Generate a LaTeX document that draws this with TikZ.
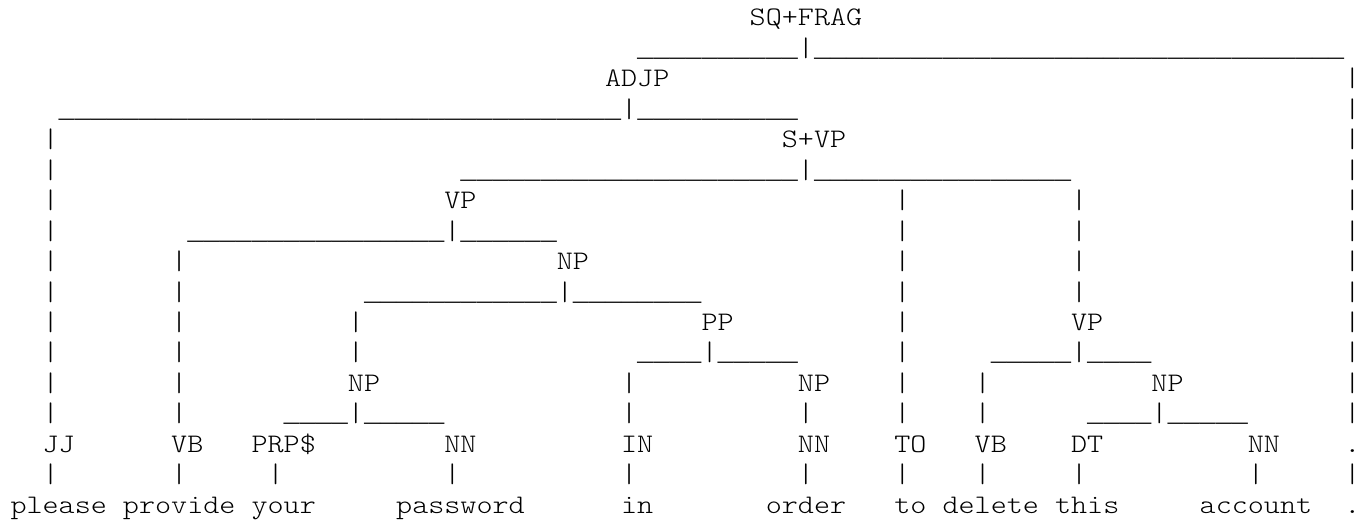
\documentclass[tikz,border=0pt]{standalone}
\usepackage{fontspec}
\newfontfamily\lmono[FakeStretch=1.1429]{lmmonolt10-regular.otf}
\newfontfamily\limono{Liberation Mono}
\ExplSyntaxOn
\cs_new:Npn \usc #1 { {\limono \prg_replicate:nn {#1} { \_ }} }
\ExplSyntaxOff
% place text on a character grid: row, column, text
\newcommand\tokat[3]{\node[txt] (r#1c#2) at ({10.5+16.07*#2},{26+30.45*#1}) {#3};}
\begin{document}
\begin{tikzpicture}[x=1pt,y=-1pt,
  txt/.style={anchor=base west,inner sep=0pt,outer sep=0pt,
    font=\fontsize{26.78}{30}\selectfont\lmono,text=black}]
\useasboundingbox (0,0) rectangle (1368,521);
% row 0
\tokat{0}{46}{SQ+FRAG}
% row 1
\tokat{1}{39}{\usc{10}|\usc{33}}
% row 2
\tokat{2}{37}{ADJP}
\tokat{2}{83}{|}
% row 3
\tokat{3}{3}{\usc{35}|\usc{10}}
\tokat{3}{83}{|}
% row 4
\tokat{4}{2}{|}
\tokat{4}{48}{S+VP}
\tokat{4}{83}{|}
% row 5
\tokat{5}{2}{|}
\tokat{5}{28}{\usc{21}|\usc{16}}
\tokat{5}{83}{|}
% row 6
\tokat{6}{2}{|}
\tokat{6}{27}{VP}
\tokat{6}{55}{|}
\tokat{6}{66}{|}
\tokat{6}{83}{|}
% row 7
\tokat{7}{2}{|}
\tokat{7}{11}{\usc{16}|\usc{6}}
\tokat{7}{55}{|}
\tokat{7}{66}{|}
\tokat{7}{83}{|}
% row 8
\tokat{8}{2}{|}
\tokat{8}{10}{|}
\tokat{8}{34}{NP}
\tokat{8}{55}{|}
\tokat{8}{66}{|}
\tokat{8}{83}{|}
% row 9
\tokat{9}{2}{|}
\tokat{9}{10}{|}
\tokat{9}{22}{\usc{12}|\usc{8}}
\tokat{9}{55}{|}
\tokat{9}{66}{|}
\tokat{9}{83}{|}
% row 10
\tokat{10}{2}{|}
\tokat{10}{10}{|}
\tokat{10}{21}{|}
\tokat{10}{43}{PP}
\tokat{10}{55}{|}
\tokat{10}{66}{VP}
\tokat{10}{83}{|}
% row 11
\tokat{11}{2}{|}
\tokat{11}{10}{|}
\tokat{11}{21}{|}
\tokat{11}{39}{\usc{4}|\usc{5}}
\tokat{11}{55}{|}
\tokat{11}{61}{\usc{5}|\usc{4}}
\tokat{11}{83}{|}
% row 12
\tokat{12}{2}{|}
\tokat{12}{10}{|}
\tokat{12}{21}{NP}
\tokat{12}{38}{|}
\tokat{12}{49}{NP}
\tokat{12}{55}{|}
\tokat{12}{60}{|}
\tokat{12}{71}{NP}
\tokat{12}{83}{|}
% row 13
\tokat{13}{2}{|}
\tokat{13}{10}{|}
\tokat{13}{17}{\usc{4}|\usc{5}}
\tokat{13}{38}{|}
\tokat{13}{49}{|}
\tokat{13}{55}{|}
\tokat{13}{60}{|}
\tokat{13}{67}{\usc{4}|\usc{5}}
\tokat{13}{83}{|}
% row 14: tags
\tokat{14}{2}{JJ}
\tokat{14}{10}{VB}
\tokat{14}{15}{PRP\$}
\tokat{14}{27}{NN}
\tokat{14}{38}{IN}
\tokat{14}{49}{NN}
\tokat{14}{55}{TO}
\tokat{14}{60}{VB}
\tokat{14}{66}{DT}
\tokat{14}{77}{NN}
\tokat{14}{83}{.}
% row 15
\tokat{15}{2}{|}
\tokat{15}{10}{|}
\tokat{15}{16}{|}
\tokat{15}{27}{|}
\tokat{15}{38}{|}
\tokat{15}{49}{|}
\tokat{15}{55}{|}
\tokat{15}{60}{|}
\tokat{15}{66}{|}
\tokat{15}{77}{|}
\tokat{15}{83}{|}
% row 16: words
\tokat{16}{0}{please}
\tokat{16}{7}{provide}
\tokat{16}{15}{your}
\tokat{16}{24}{password}
\tokat{16}{38}{in}
\tokat{16}{47}{order}
\tokat{16}{55}{to}
\tokat{16}{58}{delete}
\tokat{16}{65}{this}
\tokat{16}{74}{account}
\tokat{16}{83}{.}
\end{tikzpicture}
\end{document}
